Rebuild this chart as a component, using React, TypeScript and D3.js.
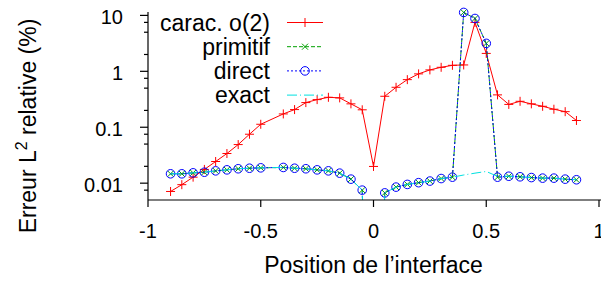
import * as d3 from "d3";
import { useEffect } from "react";

// interface positions (x = -0.45 is absent from the run)
const positions = [
  -0.9, -0.85, -0.8, -0.75, -0.7, -0.65, -0.6, -0.55, -0.5, -0.4, -0.35, -0.3,
  -0.25, -0.2, -0.15, -0.1, -0.05, 0, 0.05, 0.1, 0.15, 0.2, 0.25, 0.3, 0.35,
  0.4, 0.45, 0.5, 0.55, 0.6, 0.65, 0.7, 0.75, 0.8, 0.85, 0.9,
];

const carac = [
  0.0071, 0.0094, 0.0128, 0.0176, 0.0244, 0.0339, 0.049, 0.075, 0.113, 0.173,
  0.207, 0.276, 0.312, 0.343, 0.335, 0.262, 0.205, 0.0199, 0.358, 0.518, 0.71,
  0.9, 1.06, 1.18, 1.28, 1.3, 7.5, 2.09, 0.379, 0.256, 0.291, 0.262, 0.237,
  0.21, 0.19, 0.132,
];

const primitif = [
  0.0147, 0.0147, 0.0153, 0.0157, 0.0166, 0.0173, 0.0181, 0.0185, 0.0188,
  0.0191, 0.0185, 0.0181, 0.0173, 0.0166, 0.0151, 0.0118, 0.0075, 1e-9, 0.0067,
  0.0085, 0.0095, 0.0102, 0.0109, 0.0121, 0.0128, 11.3, 8.8, 3.16, 0.0128,
  0.0133, 0.013, 0.0126, 0.0123, 0.0123, 0.0118, 0.0115,
];

const direct = [
  0.0147, 0.0147, 0.0153, 0.0157, 0.0166, 0.0173, 0.0181, 0.0185, 0.0188,
  0.0191, 0.0185, 0.0181, 0.0173, 0.0166, 0.0151, 0.0118, 0.0075, 1e-9, 0.0067,
  0.0085, 0.0095, 0.0102, 0.0109, 0.0121, 0.0128, 11.3, 8.8, 3.16, 0.0128,
  0.0133, 0.013, 0.0126, 0.0123, 0.0123, 0.0118, 0.0115,
];

const exact = [
  0.0147, 0.0147, 0.0153, 0.0157, 0.0166, 0.0173, 0.0181, 0.0185, 0.0188,
  0.0191, 0.0185, 0.0181, 0.0173, 0.0166, 0.0151, 0.0118, 0.0075, 1e-9, 0.0067,
  0.0085, 0.0095, 0.0102, 0.0109, 0.0121, 0.0128, 0.014, 0.0151, 0.0162,
  0.0132, 0.0133, 0.013, 0.0126, 0.0123, 0.0123, 0.0118, 0.0115,
];

const xTicks = [-1, -0.5, 0, 0.5, 1];
const xTickLabels = ["-1", "-0.5", "0", "0.5", "1"];
const yTicks = [0.01, 0.1, 1, 10];
const yTickLabels = ["0.01", "0.1", "1", "10"];
const yMinorFactors = [2, 5, 7.5];

const width = 601;
const height = 282;
const left = 148;
const right = 599;
const bottom = 200;
const top = 12;
const font = "'Liberation Sans', Arial, Helvetica, sans-serif";

const x = d3.scaleLinear().domain([-1, 1]).range([left, right]);
const y = d3.scaleLog().domain([0.005, 11.5]).range([bottom, top]);

type Pt = { x: number; v: number };
const toPts = (vals: number[]): Pt[] => positions.map((p, i) => ({ x: p, v: vals[i] }));

const line = d3
  .line<Pt>()
  .x((d) => x(d.x))
  .y((d) => y(d.v));

const series = [
  { name: "carac. o(2)", values: carac, color: "#ff0000", dash: "none", marker: "plus" },
  { name: "primitif", values: primitif, color: "#00a000", dash: "4,2", marker: "cross" },
  { name: "direct", values: direct, color: "#0000ff", dash: "2,2", marker: "circle" },
  { name: "exact", values: exact, color: "#00e0e0", dash: "10,3,1,3", marker: "none" },
];

function Marker({ kind, cx, cy, color }: { kind: string; cx: number; cy: number; color: string }) {
  if (kind === "plus") {
    return (
      <path
        d={`M${cx - 4.5},${cy}H${cx + 4.5}M${cx},${cy - 4.5}V${cy + 4.5}`}
        stroke={color}
        strokeWidth={1}
      />
    );
  }
  if (kind === "cross") {
    return (
      <path
        d={`M${cx - 3},${cy - 3}L${cx + 3},${cy + 3}M${cx - 3},${cy + 3}L${cx + 3},${cy - 3}`}
        stroke={color}
        strokeWidth={1}
      />
    );
  }
  if (kind === "circle") {
    return <circle cx={cx} cy={cy} r={4.3} fill="none" stroke={color} strokeWidth={1} />;
  }
  return null;
}

export default function App() {
  useEffect(() => {
    document.body.style.margin = "0";
  }, []);

  const [yLo, yHi] = y.domain();
  const minorTicks: number[] = [];
  yTicks.concat([0.001]).forEach((t) =>
    yMinorFactors.forEach((f) => {
      const v = t * f;
      if (v > yLo && v < yHi) minorTicks.push(v);
    }),
  );

  const legendY = (i: number) => 22.5 + i * 24.2;

  return (
    <svg width={width} height={height} style={{ display: "block", background: "#fff" }}>
      <defs>
        <clipPath id="plotClip">
          <rect x={left} y={0} width={right - left + 2} height={bottom} />
        </clipPath>
      </defs>

      {/* series */}
      {series.map((s) => {
        const pts = toPts(s.values);
        return (
          <g key={s.name}>
            <path
              d={line(pts) ?? ""}
              fill="none"
              stroke={s.color}
              strokeWidth={1}
              strokeDasharray={s.dash}
              clipPath="url(#plotClip)"
            />
            {pts
              .filter((p) => p.v >= yLo && p.v <= yHi * 1.05)
              .map((p, i) => (
                <Marker key={i} kind={s.marker} cx={x(p.x)} cy={y(p.v)} color={s.color} />
              ))}
          </g>
        );
      })}

      {/* axes */}
      <g stroke="#000" strokeWidth={1.2}>
        <line x1={left} x2={left} y1={top} y2={bottom} />
        <line x1={left} x2={right + 2} y1={bottom} y2={bottom} />
        {yTicks.map((t) => (
          <line key={t} x1={left - 8} x2={left} y1={y(t)} y2={y(t)} />
        ))}
        {minorTicks.map((t) => (
          <line key={t} x1={left - 4} x2={left} y1={y(t)} y2={y(t)} />
        ))}
        {xTicks.map((t) => (
          <line key={t} x1={x(t)} x2={x(t)} y1={bottom} y2={bottom + 7} />
        ))}
      </g>

      <g fontFamily={font} fontSize={20} fill="#000">
        {yTicks.map((t, i) => (
          <text key={t} x={123} y={y(t)} dy="0.42em" textAnchor="end">
            {yTickLabels[i]}
          </text>
        ))}
        {xTicks.map((t, i) => (
          <text key={t} x={x(t)} y={238} textAnchor="middle">
            {xTickLabels[i]}
          </text>
        ))}
      </g>

      <text x={x(0)} y={273} textAnchor="middle" fontFamily={font} fontSize={23}>
        Position de l’interface
      </text>
      <text
        transform={`translate(36, ${(top + bottom) / 2 + 20}) rotate(-90)`}
        textAnchor="middle"
        fontFamily={font}
        fontSize={23}
      >
        Erreur L
        <tspan dy={-9} fontSize={16}>
          2
        </tspan>
        <tspan dy={9}> relative (%)</tspan>
      </text>

      {/* legend */}
      <g fontFamily={font} fontSize={23}>
        {series.map((s, i) => (
          <g key={s.name}>
            <text x={270} y={legendY(i) + 8} textAnchor="end">
              {s.name}
            </text>
            <line
              x1={287}
              x2={323}
              y1={legendY(i)}
              y2={legendY(i)}
              stroke={s.color}
              strokeWidth={1}
              strokeDasharray={s.dash}
            />
            <Marker kind={s.marker} cx={305} cy={legendY(i)} color={s.color} />
          </g>
        ))}
      </g>
    </svg>
  );
}
